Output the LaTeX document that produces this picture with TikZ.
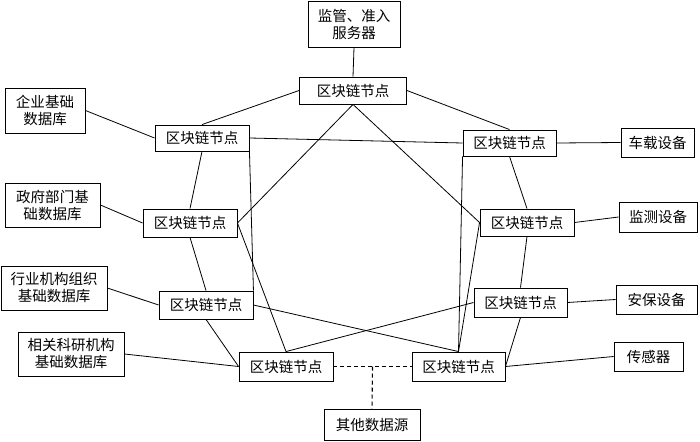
\documentclass[tikz,border=0pt]{standalone}
\usepackage{fontspec}
\setmainfont{Noto Sans CJK SC}
\usetikzlibrary{calc}
\begin{document}
\begin{tikzpicture}[x=1pt,y=-1pt,
  box/.style={draw, line width=0.9pt, inner sep=0pt, align=center, font=\fontsize{14.5}{17}\selectfont},
  link/.style={line width=0.8pt},
  dlink/.style={line width=1.1pt, dash pattern=on 4pt off 3pt}]
\useasboundingbox (0,0) rectangle (700,441);
% nodes
\node[box, minimum width=92pt, minimum height=46pt] (top) at (354,24) {监管、准入\\服务器};
\node[box, minimum width=107pt, minimum height=27pt] (n1) at (353,90.5) {区块链节点};
\node[box, minimum width=94pt, minimum height=26pt] (n2) at (202,138) {区块链节点};
\node[box, minimum width=93pt, minimum height=26pt] (n3) at (509.5,143) {区块链节点};
\node[box, minimum width=73pt, minimum height=29pt] (chezai) at (657.5,142.5) {车载设备};
\node[box, minimum width=80pt, minimum height=45pt] (qiye) at (45,110.5) {企业基础\\数据库};
\node[box, minimum width=95pt, minimum height=44pt] (zhengfu) at (52.5,205) {政府部门基\\础数据库};
\node[box, minimum width=94pt, minimum height=28pt] (n4) at (190,223) {区块链节点};
\node[box, minimum width=94pt, minimum height=27pt] (n5) at (527,222.5) {区块链节点};
\node[box, minimum width=78pt, minimum height=30pt] (jiance) at (658,217) {监测设备};
\node[box, minimum width=106pt, minimum height=44pt] (hangye) at (54,288) {行业机构组织\\基础数据库};
\node[box, minimum width=94pt, minimum height=28pt] (n6) at (206,305) {区块链节点};
\node[box, minimum width=93pt, minimum height=29pt] (n7) at (520.5,302.5) {区块链节点};
\node[box, minimum width=81pt, minimum height=29pt] (anbao) at (656.5,299.5) {安保设备};
\node[box, minimum width=106pt, minimum height=44pt] (keyan) at (71,354) {相关科研机构\\基础数据库};
\node[box, minimum width=94pt, minimum height=29pt] (n8) at (286,366.5) {区块链节点};
\node[box, minimum width=93pt, minimum height=29pt] (n9) at (458.5,366.5) {区块链节点};
\node[box, minimum width=69pt, minimum height=29pt] (chuangan) at (648.5,356.5) {传感器};
\node[box, minimum width=96pt, minimum height=31pt] (qita) at (372,424.5) {其他数据源};
% connectors
\draw[link] (top.south) -- (n1.north);
\draw[link] (n1.west) -- (n2.north);
\draw[link] (n1.east) -- (n3.north);
\draw[link] (n1.south) -- (n4.east);
\draw[link] (n1.south) -- (n5.west);
\draw[link] (n2.east) -- (n3.west);
\draw[link] (qiye.east) -- (n2.west);
\draw[link] (n2.south) -- (n4.north);
\draw[link] (n2.south east) -- (n6.north east);
\draw[link] (zhengfu.east) -- (n4.west);
\draw[link] (n4.south) -- (n6.north);
\draw[link] (n4.east) -- (n8.north);
\draw[link] (hangye.east) -- (n6.west);
\draw[link] (n6.south) -- (n8.west);
\draw[link] (keyan.east) -- (n8.west);
\draw[link] (n6.east) -- (n9.north);
\draw[link] (n8.north) -- (n7.west);
\draw[link] (n7.east) -- (anbao.west);
\draw[link] (n5.south) -- (n7.north);
\draw[link] (n7.south) -- (n9.east);
\draw[link] (n9.east) -- (chuangan.west);
\draw[link] (n5.east) -- (jiance.west);
\draw[link] (n3.east) -- (chezai.west);
\draw[link] (n3.south) -- (n5.north);
\draw[link] (n3.south west) -- (n9.north);
\draw[link] (n5.west) -- (n9.north);
\draw[dlink] (n8.east) -- (n9.west);
\coordinate (mid) at ($(n8.east)!0.5!(n9.west)$);
\draw[dlink] (mid) -- (qita.north);
\end{tikzpicture}
\end{document}
